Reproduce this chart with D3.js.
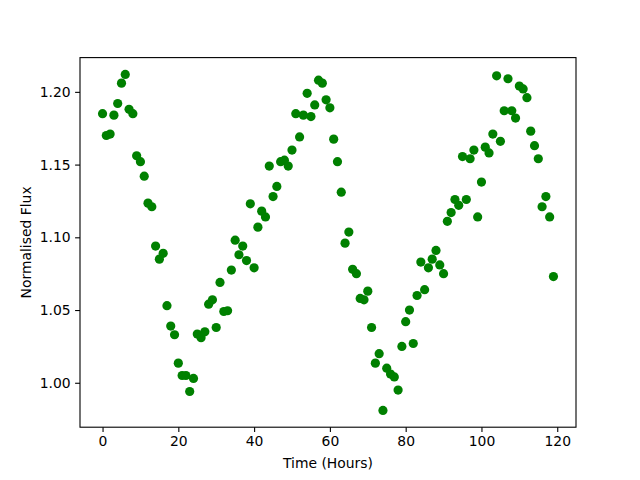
<!DOCTYPE html>
<html>
<head>
<meta charset="utf-8">
<script src="https://cdn.jsdelivr.net/npm/d3@7"></script>
<style>
  body { margin: 0; background: #fff; }
  text { font-family: "DejaVu Sans", sans-serif; fill: #000; }
</style>
</head>
<body>
<div id="chart"></div>
<script>
// DATA
////////////////////////////
// hours 0..119, one reading per hour
var hours = d3.range(0, 120);
var flux = [
  1.185, 1.170, 1.171, 1.184, 1.192, 1.206, 1.212, 1.188, 1.185, 1.156,
  1.152, 1.142, 1.1235, 1.121, 1.094, 1.085, 1.089, 1.053, 1.039, 1.033,
  1.0135, 1.005, 1.005, 0.994, 1.003, 1.0335, 1.031, 1.035, 1.054, 1.057,
  1.038, 1.069, 1.049, 1.0495, 1.0775, 1.098, 1.088, 1.094, 1.084, 1.123,
  1.079, 1.107, 1.118, 1.114, 1.149, 1.128, 1.135, 1.152, 1.153, 1.149,
  1.160, 1.185, 1.169, 1.184, 1.199, 1.183, 1.191, 1.208, 1.206, 1.1945,
  1.189, 1.1675, 1.152, 1.131, 1.096, 1.1036, 1.078, 1.075, 1.058, 1.057,
  1.063, 1.038, 1.0135, 1.020, 0.981, 1.010, 1.006, 1.004, 0.995, 1.025,
  1.042, 1.050, 1.027, 1.060, 1.083, 1.064, 1.079, 1.085, 1.091, 1.081,
  1.075, 1.111, 1.117, 1.126, 1.122, 1.1555, 1.126, 1.154, 1.160, 1.114,
  1.138, 1.162, 1.158, 1.171, 1.211, 1.166, 1.187, 1.209, 1.187, 1.182,
  1.204, 1.202, 1.196, 1.173, 1.163, 1.154, 1.121, 1.128, 1.114, 1.073
];
var xTicks = [0, 20, 40, 60, 80, 100, 120];
var yTicks = [1.00, 1.05, 1.10, 1.15, 1.20];

var points = hours.map(function(h, i) { return {x: h, y: flux[i]}; });

// SETUP
////////////////////////////
var width = 640,
    height = 480;
var margin = {left: 80, right: 64, top: 57.6, bottom: 52.8};
var innerW = width - margin.left - margin.right,
    innerH = height - margin.top - margin.bottom;

// matplotlib style 5% margins
function padded(ext) {
  var d = (ext[1] - ext[0]) * 0.05;
  return [ext[0] - d, ext[1] + d];
}

var x = d3.scaleLinear()
    .domain(padded(d3.extent(hours)))
    .range([0, innerW]);
var y = d3.scaleLinear()
    .domain(padded(d3.extent(flux)))
    .range([innerH, 0]);

var svg = d3.select("#chart").append("svg")
    .attr("width", width)
    .attr("height", height);

var g = svg.append("g")
    .attr("transform", "translate(" + margin.left + "," + margin.top + ")");

// points (marker 6pt + 1pt edge, same colour)
g.selectAll("circle")
  .data(points)
  .enter().append("circle")
    .attr("cx", function(d) { return x(d.x); })
    .attr("cy", function(d) { return y(d.y); })
    .attr("r", 4.6)
    .style("fill", "#008000");

// axes
var xAxis = g.append("g")
    .attr("transform", "translate(0," + innerH + ")")
    .call(d3.axisBottom(x).tickValues(xTicks).tickSize(4.9).tickPadding(4.5).tickFormat(d3.format("d")));
var yAxis = g.append("g")
    .call(d3.axisLeft(y).tickValues(yTicks).tickSize(4.9).tickPadding(4.5).tickFormat(d3.format(".2f")));

[xAxis, yAxis].forEach(function(a) {
  a.select(".domain").remove();
  a.selectAll(".tick line").style("stroke", "#000").style("stroke-width", 1.1);
  a.selectAll(".tick text").style("font-size", "13.9px").style("font-family", "DejaVu Sans, sans-serif");
});

// frame
g.append("rect")
    .attr("width", innerW)
    .attr("height", innerH)
    .style("fill", "none")
    .style("stroke", "#000")
    .style("stroke-width", 1.1);

// labels
svg.append("text")
    .attr("x", margin.left + innerW / 2)
    .attr("y", 468)
    .attr("text-anchor", "middle")
    .style("font-size", "13.9px")
    .text("Time (Hours)");

svg.append("text")
    .attr("transform", "translate(31," + (margin.top + innerH / 2) + ") rotate(-90)")
    .attr("text-anchor", "middle")
    .style("font-size", "13.9px")
    .text("Normalised Flux");
</script>
</body>
</html>
